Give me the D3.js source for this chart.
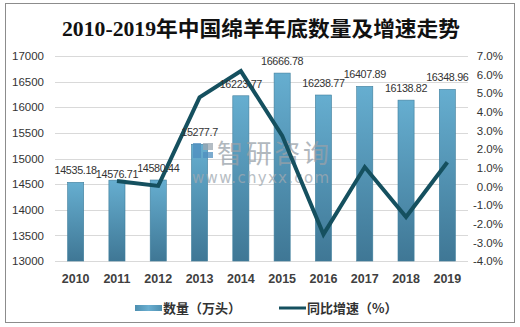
<!DOCTYPE html>
<html><head><meta charset="utf-8">
<script src="https://cdn.jsdelivr.net/npm/d3@7/dist/d3.min.js"></script>
<style>body{margin:0;background:#fff}svg{display:block}</style>
</head><body>
<svg id="c" width="520" height="327"></svg>
<script>
const years = ["2010","2011","2012","2013","2014","2015","2016","2017","2018","2019"];
const counts = [14535.18,14576.71,14580.44,15277.7,16223.77,16666.78,16238.77,16407.89,16138.82,16348.96];
const growth = [null,0.29,0.03,4.78,6.19,2.73,-2.57,1.04,-1.64,1.30];
const leftTicks = [13000,13500,14000,14500,15000,15500,16000,16500,17000];
const rightTicks = [-4,-3,-2,-1,0,1,2,3,4,5,6,7];
const title = "2010-2019年中国绵羊年底数量及增速走势";
const legendNames = ["数量（万头）","同比增速（%）"];

const svg = d3.select("#c");
const defs = svg.append("defs");
const g1 = defs.append("linearGradient").attr("id","bg").attr("x1",0).attr("y1",0).attr("x2",0).attr("y2",1);
g1.append("stop").attr("offset","0%").attr("stop-color","#66aed0");
g1.append("stop").attr("offset","100%").attr("stop-color","#3f7795");
const g2 = defs.append("linearGradient").attr("id","lg").attr("x1",0).attr("y1",0).attr("x2",1).attr("y2",0);
g2.append("stop").attr("offset","0%").attr("stop-color","#4d8fb0");
g2.append("stop").attr("offset","50%").attr("stop-color","#6aaed0");
g2.append("stop").attr("offset","100%").attr("stop-color","#4d8fb0");

svg.append("rect").attr("x",5.5).attr("y",3.5).attr("width",509).attr("height",319)
  .attr("fill","#fff").attr("stroke","#8c8c8c").attr("stroke-width",1);

svg.append("text").attr("x",261).attr("y",36).attr("text-anchor","middle")
  .attr("font-family","'Liberation Serif','Noto Sans CJK SC',serif").attr("font-size",21)
  .attr("font-weight","bold").attr("fill","#111")
  .attr("textLength",398).attr("lengthAdjust","spacingAndGlyphs").text(title);

const x = d3.scaleBand().domain(years).range([55,468]).paddingInner(0.61).paddingOuter(0.305);
const y = d3.scaleLinear().domain([13000,17000]).range([261,56]);
const y2 = d3.scaleLinear().domain([-4,7]).range([261,56]);

svg.append("g").selectAll("line").data(leftTicks).join("line")
  .attr("x1",55).attr("x2",468).attr("y1",d=>Math.round(y(d))+0.5).attr("y2",d=>Math.round(y(d))+0.5)
  .attr("stroke","#d9d9d9");

const la = svg.append("g").attr("transform","translate(55,0)")
  .call(d3.axisLeft(y).tickValues(leftTicks).tickSize(0).tickPadding(11).tickFormat(d3.format("d")));
la.select(".domain").remove();
la.selectAll("text").attr("font-family","'Liberation Sans',Arial,sans-serif").attr("font-size",11.5).attr("fill","#333");

const ra = svg.append("g").attr("transform","translate(503,0)")
  .call(d3.axisLeft(y2).tickValues(rightTicks).tickSize(0).tickPadding(0).tickFormat(d=>d.toFixed(1)+"%"));
ra.select(".domain").remove();
ra.selectAll("text").attr("font-family","'Liberation Sans',Arial,sans-serif").attr("font-size",11.5).attr("fill","#333");

const xa = svg.append("g").attr("transform","translate(0,261)")
  .call(d3.axisBottom(x).tickSize(0).tickPadding(13));
xa.select(".domain").remove();
xa.selectAll("text").attr("font-family","'Liberation Sans',Arial,sans-serif").attr("font-size",12.5)
  .attr("font-weight","bold").attr("fill","#404040");

svg.append("g").selectAll("rect").data(counts).join("rect")
  .attr("x",(d,i)=>x(years[i])).attr("width",x.bandwidth())
  .attr("y",d=>y(d)).attr("height",d=>261-y(d))
  .attr("fill","url(#bg)").attr("stroke","#3f7e9c").attr("stroke-width",0.6);

// watermark
const wm = svg.append("g").attr("opacity",0.75);
wm.append("rect").attr("x",193).attr("y",143).attr("width",8).attr("height",15).attr("fill","#4f8fc0");
wm.append("rect").attr("x",203).attr("y",143).attr("width",10).attr("height",7).attr("fill","#9aa7b2");
wm.append("rect").attr("x",203).attr("y",152).attr("width",10).attr("height",6).attr("fill","#4f8fc0");
wm.append("text").attr("x",217).attr("y",163).attr("font-family","'Noto Sans CJK SC',sans-serif")
  .attr("font-size",26).attr("fill","#98a1a9").attr("textLength",112).text("智研咨询");
wm.append("text").attr("x",192).attr("y",183).attr("font-family","'DejaVu Sans',sans-serif")
  .attr("font-size",15).attr("fill","#a0a9b1").attr("textLength",137).attr("lengthAdjust","spacing").text("www.chyxx.com");

const line = d3.line().defined(d=>d.v!==null).x(d=>x(d.k)+x.bandwidth()/2).y(d=>y2(d.v));
svg.append("path").datum(years.map((k,i)=>({k,v:growth[i]})))
  .attr("d",line).attr("fill","none").attr("stroke","#15505f").attr("stroke-width",4).attr("stroke-linejoin","miter");

svg.append("g").selectAll("text").data(counts).join("text")
  .attr("x",(d,i)=>x(years[i])+x.bandwidth()/2)
  .attr("y",(d,i)=>y(d)-(i===1?2:8))
  .attr("text-anchor","middle").attr("font-family","'Liberation Sans',Arial,sans-serif")
  .attr("font-size",10.8).attr("letter-spacing",-0.35).attr("fill","#333").text(d=>String(d));

// legend
const lg = svg.append("g");
lg.append("rect").attr("x",135).attr("y",305).attr("width",27).attr("height",6).attr("fill","url(#lg)");
lg.append("text").attr("x",163).attr("y",313).attr("font-family","'Noto Sans CJK SC',sans-serif")
  .attr("font-size",13).attr("font-weight","bold").attr("fill","#333").text(legendNames[0]);
lg.append("line").attr("x1",279).attr("x2",306).attr("y1",308).attr("y2",308).attr("stroke","#15505f").attr("stroke-width",3);
lg.append("text").attr("x",307).attr("y",313).attr("font-family","'Noto Sans CJK SC',sans-serif")
  .attr("font-size",13).attr("font-weight","bold").attr("fill","#333").text(legendNames[1]);
</script>
</body></html>
